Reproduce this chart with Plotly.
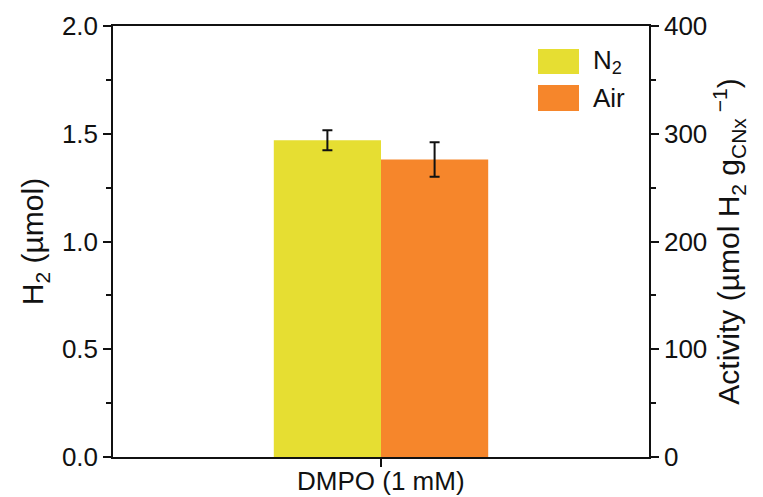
import plotly.graph_objects as go

categories = ["DMPO (1 mM)"]
series_names = ["N<sub>2</sub>", "Air"]
h2_n2 = [1.47]
h2_n2_err = [0.046]
h2_air = [1.38]
h2_air_err = [0.08]
colors = ["#E6DE32", "#F6862B"]

FONT = "Liberation Sans, Arial, sans-serif"
INK = "#111111"

fig = go.Figure()
for name, vals, errs, col in [
    (series_names[0], h2_n2, h2_n2_err, colors[0]),
    (series_names[1], h2_air, h2_air_err, colors[1]),
]:
    fig.add_trace(go.Bar(
        x=categories, y=vals, name=name,
        marker=dict(color=col, line=dict(width=0)),
        error_y=dict(type="data", array=errs, color=INK, thickness=2, width=5),
        showlegend=False,
    ))

# invisible trace to anchor the secondary (activity) axis
fig.add_trace(go.Scatter(x=categories, y=[h2_n2[0] * 200], yaxis="y2",
                         mode="markers", marker=dict(opacity=0), showlegend=False,
                         hoverinfo="skip"))

# category labels placed just under the axis
for cat in categories:
    fig.add_annotation(x=cat, xref="x", y=0, yref="paper", text=cat, showarrow=False,
                       xanchor="center", yanchor="top", yshift=-7,
                       font=dict(size=26, color=INK, family=FONT))

# legend drawn as shapes + text
L, R, T, B = 113, 649, 26, 457.3
W, H = R - L, B - T
def px(x): return (x - L) / W
def py(y): return (B - y) / H
legend_items = [(series_names[0], colors[0], 49, 74), (series_names[1], colors[1], 85, 111)]
for name, col, y0, y1 in legend_items:
    fig.add_shape(type="rect", xref="paper", yref="paper",
                  x0=px(538), x1=px(579), y0=py(y1), y1=py(y0),
                  fillcolor=col, line=dict(width=0))
    fig.add_annotation(xref="paper", yref="paper", x=px(591), y=py((y0 + y1) / 2),
                       text=name, showarrow=False, xanchor="left", yanchor="middle",
                       font=dict(size=26, color=INK, family=FONT))

axis_common = dict(showline=True, linecolor=INK, linewidth=1.5,
                   ticks="outside", ticklen=8, tickwidth=1.5, tickcolor=INK,
                   showgrid=False, zeroline=False, automargin=False,
                   tickfont=dict(size=26, color=INK, family=FONT))

fig.update_layout(
    width=763, height=497,
    margin=dict(l=113, r=114, t=26, b=40),
    plot_bgcolor="white", paper_bgcolor="white",
    barmode="group", bargap=0.6, bargroupgap=0,
    font=dict(family=FONT, color=INK),
    xaxis=dict(**axis_common, mirror=True, showticklabels=False),
    yaxis=dict(**axis_common, range=[0, 2], dtick=0.5, tickformat=".1f",
               minor=dict(dtick=0.25, ticks="outside", ticklen=5, tickwidth=1.5, tickcolor=INK),
               title=dict(text="H<sub>2</sub> (µmol)", font=dict(size=30, family=FONT, color=INK),
                          standoff=9)),
    yaxis2=dict(**axis_common, overlaying="y", side="right", range=[0, 400], dtick=100,
                minor=dict(dtick=50, ticks="outside", ticklen=5, tickwidth=1.5, tickcolor=INK),
                title=dict(text="Activity (µmol H<sub>2</sub> g<sub>CNx</sub><sup> −1</sup>)",
                           font=dict(size=30, family=FONT, color=INK), standoff=12)),
)

fig.write_html("out.html")
